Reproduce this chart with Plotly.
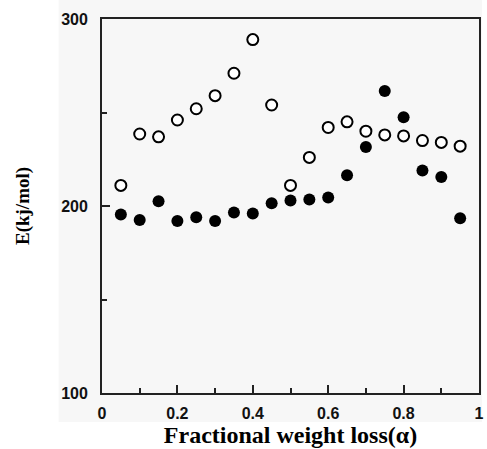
import plotly.graph_objects as go

alpha = [0.05, 0.10, 0.15, 0.20, 0.25, 0.30, 0.35, 0.40, 0.45, 0.50,
         0.55, 0.60, 0.65, 0.70, 0.75, 0.80, 0.85, 0.90, 0.95]
E_open = [211, 238.5, 237, 246, 252, 259, 271, 289, 254, 211,
          226, 242, 245, 240, 238, 237.5, 235, 234, 232]
E_filled = [195.5, 192.5, 202.5, 192, 194, 192, 196.5, 196, 201.5, 203,
            203.5, 204.5, 216.5, 231.5, 261.5, 247.5, 219, 215.5, 193.5]

x_ticks = [0, 0.2, 0.4, 0.6, 0.8, 1]
x_ticktext = ["0", "0.2", "0.4", "0.6", "0.8", "1"]
y_ticks = [100, 200, 300]

W, H = 487, 449
L, R, T, B = 102, 3, 19, 56

fig = go.Figure()
fig.add_trace(go.Scatter(
    x=alpha, y=E_open, mode="markers",
    marker=dict(symbol="circle", size=11, color="white",
                line=dict(color="black", width=2)),
    showlegend=False))
fig.add_trace(go.Scatter(
    x=alpha, y=E_filled, mode="markers",
    marker=dict(symbol="circle", size=12, color="black",
                line=dict(color="black", width=0)),
    showlegend=False))

fig.update_layout(
    width=W, height=H,
    margin=dict(l=L, r=R, t=T, b=B, pad=0),
    paper_bgcolor="white",
    plot_bgcolor="#f7f7f7",
    shapes=[dict(type="rect", xref="paper", yref="paper", layer="below",
                 x0=-(L - 58) / (W - L - R), x1=1 + R / (W - L - R),
                 y0=-(422 - (H - B)) / (H - T - B), y1=1 + T / (H - T - B),
                 fillcolor="#f7f7f7", line=dict(width=0))],
    xaxis=dict(
        range=[0, 1], tickvals=x_ticks, ticktext=x_ticktext,
        ticks="inside", ticklen=8, tickwidth=1.5, tickcolor="#222",
        showline=True, linecolor="#222", linewidth=1.8, mirror=True,
        showgrid=False, zeroline=False,
        ticklabelstandoff=5,
        tickfont=dict(family="Liberation Sans, Arial", size=16, color="#111", weight=700),
        minor=dict(tickvals=[0.1, 0.3, 0.5, 0.7, 0.9], ticks="inside", ticklen=5,
                   tickwidth=1.5, tickcolor="#222"),
        title=dict(text="Fractional weight loss(α)", standoff=4,
                   font=dict(family="Liberation Serif, Times New Roman", size=24,
                             color="black", weight=700)),
    ),
    yaxis=dict(
        range=[100, 300], tickvals=y_ticks,
        ticks="inside", ticklen=8, tickwidth=1.5, tickcolor="#222",
        showline=True, linecolor="#222", linewidth=1.8, mirror=True,
        showgrid=False, zeroline=False,
        ticklabelstandoff=9,
        tickfont=dict(family="Liberation Sans, Arial", size=16, color="#111", weight=700),
        minor=dict(tickvals=[150, 250], ticks="inside", ticklen=5,
                   tickwidth=1.5, tickcolor="#222"),
        title=dict(text="E(kj/mol)", standoff=27,
                   font=dict(family="Liberation Serif, Times New Roman", size=19,
                             color="black", weight=700)),
    ),
)

fig.write_html("out.html")
